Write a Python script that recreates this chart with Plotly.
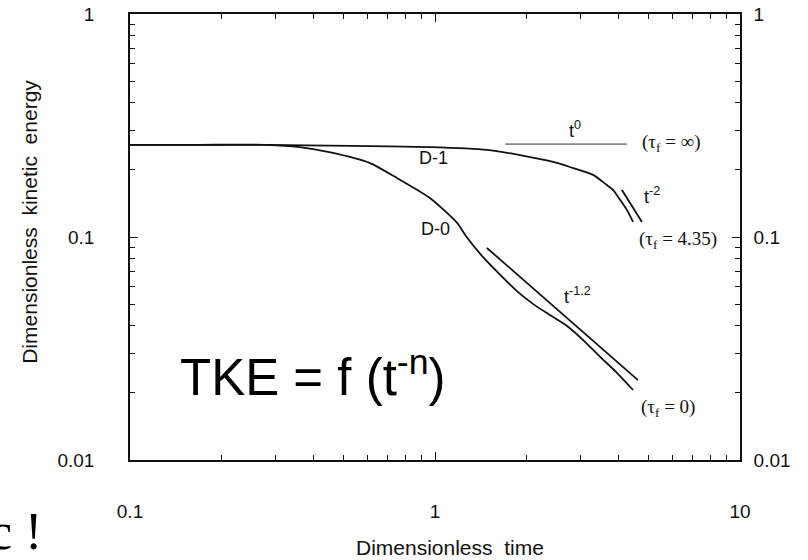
import numpy as np
import plotly.graph_objects as go

# Decay of dimensionless kinetic energy with dimensionless time
t_d0 = [0.1, 0.17, 0.28, 0.36, 0.45, 0.61, 0.75, 0.96, 1.18, 1.27, 1.44, 1.63,
        1.86, 2.10, 2.38, 2.71, 3.06, 3.48, 3.95, 4.46]
e_d0 = [0.259, 0.259, 0.259, 0.253, 0.240, 0.215, 0.184, 0.150, 0.116, 0.100,
        0.081, 0.068, 0.057, 0.050, 0.0447, 0.0399, 0.0345, 0.0290, 0.0246, 0.0206]

t_d1 = [0.1, 0.28, 0.53, 0.96, 1.48, 1.90, 2.44, 2.77, 3.30, 3.66, 3.83, 4.04,
        4.26, 4.46]
e_d1 = [0.259, 0.259, 0.256, 0.253, 0.246, 0.233, 0.217, 0.206, 0.190, 0.171,
        0.163, 0.147, 0.132, 0.117]

# Power-law reference segments (end points)
t_ref0 = [1.70, 4.26]
e_ref0 = [0.261, 0.261]
t_ref2 = [4.10, 4.77]
e_ref2 = [0.1625, 0.1168]
t_ref12 = [1.48, 4.63]
e_ref12 = [0.0893, 0.0228]

# Axis ticks
x_major = [0.1, 1, 10]
x_major_text = ["0.1", "1", "10"]
x_minor = [0.2, 0.3, 0.4, 0.5, 0.6, 0.7, 0.8, 0.9, 2, 3, 4, 5, 6, 7, 8, 9]
y_major = [0.01, 0.1, 1]
y_major_text = ["0.01", "0.1", "1"]
y_minor = [0.02, 0.03, 0.04, 0.05, 0.06, 0.07, 0.08, 0.09,
           0.2, 0.3, 0.4, 0.5, 0.6, 0.7, 0.8, 0.9]

INK = "#111111"
SANS = "Liberation Sans, Arial, sans-serif"
SERIF = "Liberation Serif, Times New Roman, serif"

fig = go.Figure()

def curve(x, y, color=INK, width=1.8, xa="x", ya="y", smooth=False):
    line = dict(color=color, width=width)
    if smooth:
        line.update(shape="spline", smoothing=0.6)
    fig.add_trace(go.Scatter(x=x, y=y, mode="lines", xaxis=xa, yaxis=ya,
                             line=line, hoverinfo="skip", showlegend=False))

curve(t_d0, e_d0, smooth=True)
curve(t_d1, e_d1, smooth=True)
curve(t_ref0, e_ref0, color="#8a8a8a", width=1.6)
curve(t_ref2, e_ref2)
curve(t_ref12, e_ref12)
# companion trace so the mirrored top/right axes are drawn
curve([None], [None], xa="x2", ya="y2")

tick_font = dict(family=SANS, size=19, color=INK)
common = dict(type="log", showgrid=False, zeroline=False, showline=True,
              linecolor=INK, linewidth=1.6, ticks="inside", ticklen=8,
              tickwidth=1.3, tickcolor=INK, tickfont=tick_font,
              automargin=False)
minor = dict(ticks="inside", ticklen=5, tickwidth=1.2, tickcolor=INK)

fig.update_layout(
    width=808, height=560,
    margin=dict(l=130, r=68, t=14, b=100, autoexpand=False),
    paper_bgcolor="white", plot_bgcolor="white",
    xaxis=dict(**common, range=[-1, 1], tickvals=x_major, ticktext=x_major_text,
               minor=dict(tickvals=x_minor, **minor), ticklabelstandoff=33),
    xaxis2=dict(**common, range=[-1, 1], overlaying="x", side="top",
                anchor="y", tickvals=x_major, showticklabels=False,
                minor=dict(tickvals=x_minor, **minor)),
    yaxis=dict(**common, range=[-2, 0], tickvals=y_major, ticktext=y_major_text,
               minor=dict(tickvals=y_minor, **minor), ticklabelstandoff=30),
    yaxis2=dict(**common, range=[-2, 0], overlaying="y", side="right",
                anchor="x", tickvals=y_major, ticktext=y_major_text,
                minor=dict(tickvals=y_minor, **minor), ticklabelstandoff=8),
)

def label(t, e, text, size=18, family=SANS):
    fig.add_annotation(x=np.log10(t), y=np.log10(e), xref="x", yref="y",
                       text=text, showarrow=False, xanchor="center",
                       yanchor="middle",
                       font=dict(family=family, size=size, color=INK))

label(2.88, 0.302, "t<sup>0</sup>")
label(5.98, 0.264, "(τ<sub>f</sub> = ∞)", size=19, family=SERIF)
label(0.99, 0.226, "D-1")
label(1.00, 0.1086, "D-0")
label(5.14, 0.154, "t<sup>-2</sup>")
label(6.27, 0.0969, "(τ<sub>f</sub> = 4.35)", size=19, family=SERIF)
label(2.94, 0.0549, "t<sup>-1.2</sup>")
label(5.81, 0.0171, "(τ<sub>f</sub> = 0)", size=19, family=SERIF)

# axis titles
fig.add_annotation(xref="paper", yref="paper", x=-0.164, y=0.534,
                   xanchor="center", yanchor="middle",
                   text="Dimensionless  kinetic  energy", textangle=-90,
                   showarrow=False, font=dict(family=SANS, size=21, color=INK))
fig.add_annotation(xref="paper", yref="paper", x=0.524, y=-0.197,
                   xanchor="center", yanchor="middle",
                   text="Dimensionless  time", showarrow=False,
                   font=dict(family=SANS, size=21, color=INK))

# decay law note
fig.add_annotation(xref="paper", yref="paper", x=0.078, y=0.193,
                   xanchor="left", yanchor="middle",
                   text="TKE = f (t<sup>-n</sup>)", showarrow=False,
                   font=dict(family=SANS, size=51, color="black"))
fig.add_annotation(xref="paper", yref="paper", x=-0.141, y=-0.16,
                   xanchor="right", yanchor="middle",
                   text="c !", showarrow=False,
                   font=dict(family=SERIF, size=52, color="black"))

fig.write_html("out.html")
